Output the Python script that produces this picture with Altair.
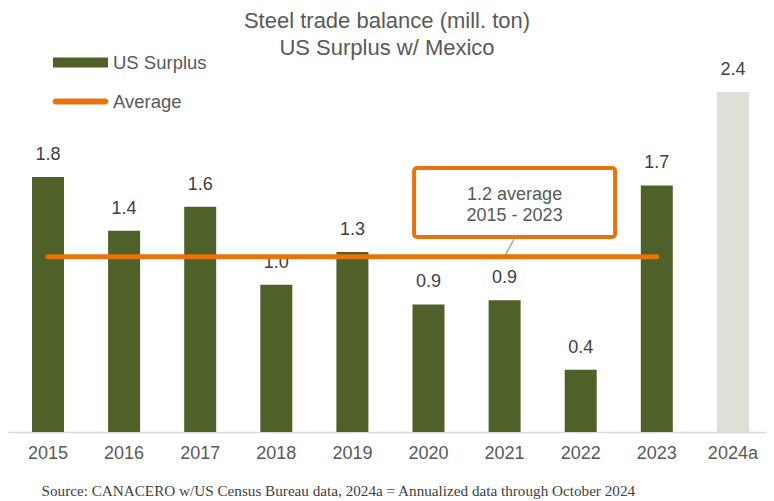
import altair as alt
import pandas as pd

# ---- data ----
years = ["2015", "2016", "2017", "2018", "2019", "2020", "2021", "2022", "2023", "2024a"]
surplus = [1.80, 1.42, 1.59, 1.04, 1.27, 0.90, 0.93, 0.44, 1.74, 2.40]
bar_series = ["US Surplus"] * 9 + ["2024a"]
avg_years = years[:9]
series_names = ["US Surplus", "Average"]
title_lines = ["Steel trade balance (mill. ton)", "US Surplus w/ Mexico"]
source_note = "Source: CANACERO w/US Census Bureau data, 2024a = Annualized data through October 2024"
callout_year = ["2021"]

avg = sum(surplus[:9]) / 9
callout_text = [f"{avg:.1f} average", f"{avg_years[0]} - {avg_years[-1]}"]

GREEN = "#4f6128"
ORANGE = "#e8720c"
GREY_BAR = "#dcdfd5"
TXT = "#595959"
FONT = "Liberation Sans"

df = pd.DataFrame({"year": years, "value": surplus, "series": bar_series})
df_main = df[df["series"] == "US Surplus"]
df_ann = df[df["series"] == "2024a"]
df_avg = pd.DataFrame({"year": avg_years, "value": [avg] * len(avg_years), "series": "Average"})
df_call = pd.DataFrame({"year": callout_year, "avg": [avg]})

W, H = 758, 368
YMAX = 2.597

xenc = alt.X(
    "year:N",
    sort=years,
    scale=alt.Scale(domain=years, paddingInner=0.5795, paddingOuter=0.27, align=0.584),
    axis=alt.Axis(
        title=source_note,
        labelFontSize=18, labelColor=TXT, labelFont=FONT, labelPadding=12, labelAngle=0,
        ticks=False, domainColor="#d9d9d9", domainWidth=1.5, grid=False,
        titleFont="Liberation Serif", titleFontSize=15.2, titleFontWeight="normal",
        titleColor="#404040", titleAnchor="start", titleX=33, titleY=58, titleBaseline="middle",
    ),
)
yscale = alt.Scale(domain=[0, YMAX], nice=False, zero=True)

def Y(field):
    return alt.Y(field, scale=yscale, axis=None)

SHAPE_EXPR = ("datum.value == 'Average' ? "
              "'M-0.9,-0.11H0.9A0.11,0.11 0 0 1 0.9,0.11H-0.9A0.11,0.11 0 0 1 -0.9,-0.11Z' : "
              "'M-1,-0.18H1V0.18H-1Z'")

bars = alt.Chart(df_main).mark_bar().encode(
    x=xenc,
    y=Y("value:Q"),
    color=alt.Color(
        "series:N",
        scale=alt.Scale(domain=series_names, range=[GREEN, ORANGE]),
        legend=alt.Legend(
            title=None, orient="none", legendX=44, legendY=-30, padding=0,
            symbolSize=3025, symbolType=alt.ExprRef(SHAPE_EXPR),
            labelFontSize=18.5, labelColor=TXT, labelFont=FONT, labelOffset=4,
            rowPadding=1,
        ),
    ),
)

bar_ann = alt.Chart(df_ann).mark_bar(color=GREY_BAR).encode(x=xenc, y=Y("value:Q"))

labels = alt.Chart(df).mark_text(dy=-22, baseline="middle", fontSize=18, color="#404040", font=FONT).encode(
    x=xenc, y=Y("value:Q"), text=alt.Text("value:Q", format=".1f")
)

connector = alt.Chart(df_call).transform_calculate(y1="1.362").mark_rule(
    color="#a6a6a6", strokeWidth=1.5, xOffset=9.5, x2Offset=0
).encode(x=xenc, x2="year:N", y=Y("y1:Q"), y2="avg:Q")

avg_line = alt.Chart(df_avg).mark_line(color=ORANGE, strokeWidth=5, strokeCap="round").encode(
    x=xenc, y=Y("value:Q")
)

box = alt.Chart(df_call).transform_calculate(b0="1.376", b1="1.863").mark_bar(
    width=201, xOffset=10, cornerRadius=3, fill="white", stroke=ORANGE, strokeWidth=4
).encode(x=xenc, y=Y("b0:Q"), y2="b1:Q")

box_text = alt.Chart(df_call).transform_calculate(ty="1.676").mark_text(
    dx=10, baseline="middle", fontSize=18, lineHeight=21, color=TXT, font=FONT
).encode(x=xenc, y=Y("ty:Q"), text=alt.value(callout_text))

chart = alt.layer(bars, bar_ann, labels, connector, avg_line, box, box_text).properties(
    width=W, height=H,
    padding={"left": 0, "right": 0, "top": 2, "bottom": 0},
    title=alt.TitleParams(
        title_lines, fontSize=22, fontWeight="normal", color=TXT, font=FONT,
        lineHeight=27, anchor="middle", offset=-26,
    ),
).configure(font=FONT).configure_view(stroke=None)

chart.save("out.html", embed_options={"renderer": "svg", "actions": False})
